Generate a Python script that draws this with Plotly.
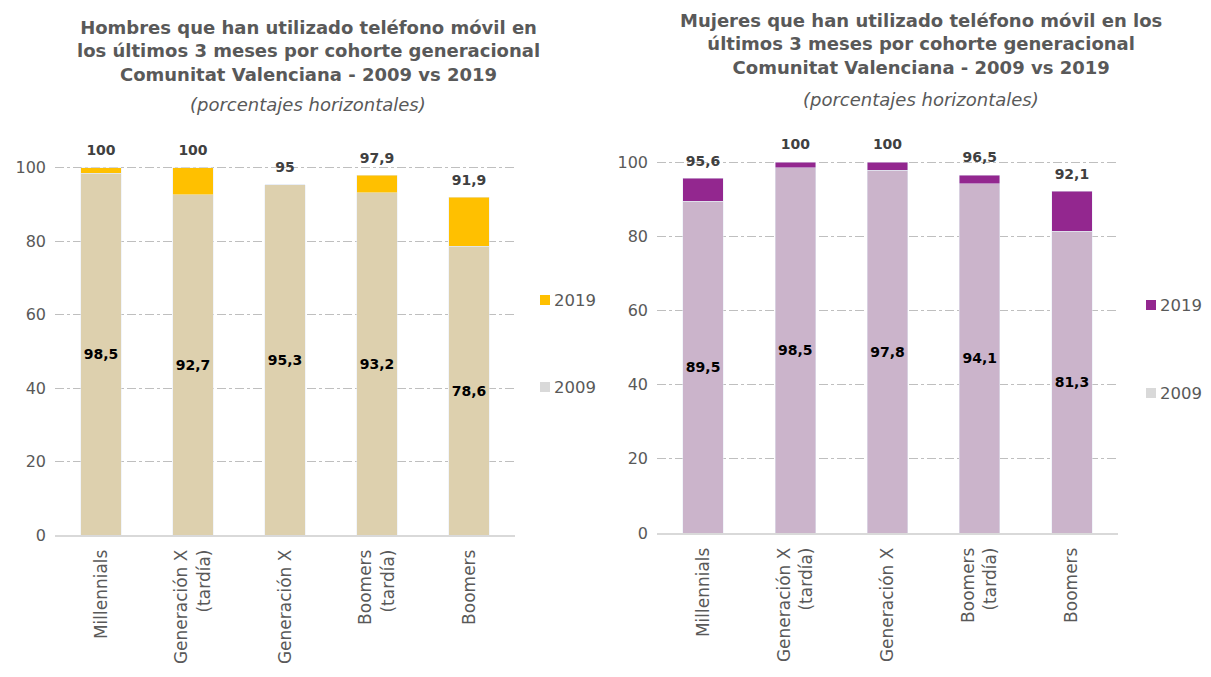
import plotly.graph_objects as go

categories = ["Millennials", "Generación X<br>(tardía)", "Generación X", "Boomers<br>(tardía)", "Boomers"]
hombres_2009 = [98.5, 92.7, 95.3, 93.2, 78.6]
hombres_2019 = [100, 100, 95, 97.9, 91.9]
mujeres_2009 = [89.5, 98.5, 97.8, 94.1, 81.3]
mujeres_2019 = [95.6, 100, 100, 96.5, 92.1]
y_ticks = [0, 20, 40, 60, 80, 100]
legend_labels = ["2019", "2009"]

FONT = "DejaVu Sans"
GRAY = "#595959"
W, H = 1211, 677
OFF = 8  # page body margin offset


def px(x):
    return (x - OFF) / W


def py(y):
    return (H - (y - OFF)) / H


def fmt(v):
    return f"{v:g}".replace(".", ",")


fig = go.Figure()


def add_panel(v09, v19, xa, ya, c09, c19):
    diff = [max(0, b - a) for a, b in zip(v09, v19)]
    fig.add_trace(go.Bar(
        x=categories, y=v09, marker_color=c09, xaxis=xa, yaxis=ya,
        text=[fmt(v) for v in v09], textposition="inside", insidetextanchor="middle",
        textangle=0, constraintext="none",
        textfont=dict(family=FONT, size=14, color="#000000", weight="bold"),
        showlegend=False, hoverinfo="skip"))
    fig.add_trace(go.Bar(
        x=categories, y=diff, marker_color=c19, xaxis=xa, yaxis=ya,
        showlegend=False, hoverinfo="skip"))
    fig.add_trace(go.Scatter(
        x=categories, y=[max(a, b) for a, b in zip(v09, v19)], mode="markers+text",
        marker=dict(size=13, color="rgba(0,0,0,0)"),
        text=[fmt(v) for v in v19], textposition="top center",
        textfont=dict(family=FONT, size=14, color="#404040", weight="bold"),
        xaxis=xa, yaxis=ya, showlegend=False, hoverinfo="skip", cliponaxis=False))


add_panel(hombres_2009, hombres_2019, "x", "y", "#DDD0AE", "#FFC000")
add_panel(mujeres_2009, mujeres_2019, "x2", "y2", "#CBB4CB", "#93278F")

ax_common = dict(
    tickmode="array", tickvals=y_ticks, range=[0, 110], automargin=False,
    showgrid=True, gridcolor="#BFBFBF", griddash="dashdot", gridwidth=1,
    zeroline=False, showline=False,
    tickfont=dict(family=FONT, size=16, color=GRAY), ticks="", ticklabelstandoff=8)
xa_common = dict(
    type="category", tickangle=-90, showline=True, linecolor="#D9D9D9", linewidth=1.5,
    automargin=False, ticklabelstandoff=6,
    tickfont=dict(family=FONT, size=17, color=GRAY), ticks="", showgrid=False)

fig.update_layout(
    width=W, height=H, barmode="stack", bargap=0.56,
    paper_bgcolor="white", plot_bgcolor="white", showlegend=False,
    margin=dict(l=0, r=0, t=0, b=0, autoexpand=False),
    xaxis=dict(domain=[px(55), px(515)], anchor="y", **xa_common),
    yaxis=dict(domain=[py(535), py(131)], anchor="x", **ax_common),
    xaxis2=dict(domain=[px(657), px(1118)], anchor="y2", **xa_common),
    yaxis2=dict(domain=[py(533), py(125)], anchor="x2", **ax_common),
)

# legends (square + text)
legend_spec = [
    (540, [300, 387], ["#FFC000", "#D9D9D9"]),
    (1146, [305, 393], ["#93278F", "#D9D9D9"]),
]
for x0, ys, cols in legend_spec:
    for lab, yc, col in zip(legend_labels, ys, cols):
        fig.add_shape(type="rect", xref="paper", yref="paper",
                      x0=px(x0), x1=px(x0 + 10), y0=py(yc + 5), y1=py(yc - 5),
                      fillcolor=col, line_width=0)
        fig.add_annotation(x=px(x0 + 12), y=py(yc), xref="paper", yref="paper",
                           xanchor="left", yanchor="middle", text=lab, showarrow=False,
                           font=dict(family=FONT, size=16.5, color=GRAY))

titles = [
    (308, 15, 104, "Hombres que han utilizado teléfono móvil en<br>los últimos 3 meses por cohorte generacional<br>Comunitat Valenciana - 2009 vs 2019"),
    (921, 8, 100, "Mujeres que han utilizado teléfono móvil en los<br>últimos 3 meses por cohorte generacional<br>Comunitat Valenciana - 2009 vs 2019"),
]
for xc, ytop, ysub, txt in titles:
    fig.add_annotation(x=px(xc), y=py(ytop), xref="paper", yref="paper",
                       xanchor="center", yanchor="top", text=f"<b>{txt}</b>",
                       showarrow=False, font=dict(family=FONT, size=18, color=GRAY))
    fig.add_annotation(x=px(xc), y=py(ysub), xref="paper", yref="paper",
                       xanchor="center", yanchor="middle", text="<i>(porcentajes horizontales)</i>",
                       showarrow=False, font=dict(family=FONT, size=18, color=GRAY))

fig.write_html("out.html")
